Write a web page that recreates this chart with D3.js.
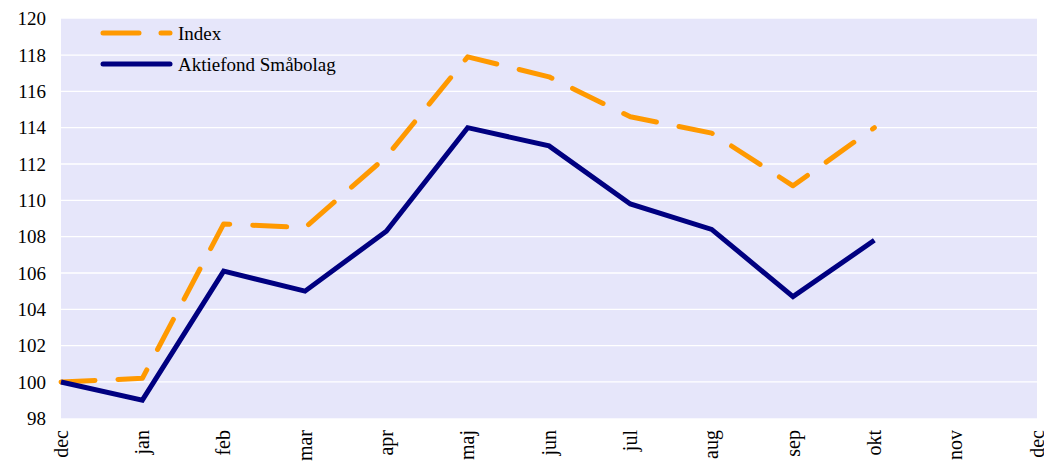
<!DOCTYPE html>
<html>
<head>
<meta charset="utf-8">
<script src="https://cdn.jsdelivr.net/npm/d3@7"></script>
<style>
  body { margin: 0; background: #fff; }
  svg text { font-family: 'Liberation Serif', 'Times New Roman', serif !important; fill: #000; }
</style>
</head>
<body>
<div id="chart"></div>
<script>
// months on the x axis (dec .. dec)
var months = ["dec", "jan", "feb", "mar", "apr", "maj", "jun", "jul", "aug", "sep", "okt", "nov", "dec"];
var yTicks = [98, 100, 102, 104, 106, 108, 110, 112, 114, 116, 118, 120];

// series (ends at okt)
var indexValues = [100, 100.2, 108.7, 108.5, 112.4, 117.9, 116.8, 114.6, 113.7, 110.8, 114.0];
var fundValues  = [100, 99.0, 106.1, 105.0, 108.3, 114.0, 113.0, 109.8, 108.4, 104.7, 107.8];

var seriesNames = ["Index", "Aktiefond Småbolag"];

var width = 1044, height = 467;
var plotLeft = 61, plotRight = 1037, plotTop = 18.7, plotBottom = 418.3;
var serif = "'Liberation Serif', serif";

var svg = d3.select("#chart").append("svg")
  .attr("width", width)
  .attr("height", height);

var x = d3.scaleLinear().domain([0, months.length - 1]).range([plotLeft, plotRight]);
var y = d3.scaleLinear().domain([98, 120]).range([plotBottom, plotTop]);

// plot background
svg.append("rect")
  .attr("x", plotLeft).attr("y", plotTop)
  .attr("width", plotRight - plotLeft).attr("height", plotBottom - plotTop)
  .attr("fill", "#e6e6fa");

// gridlines
svg.selectAll("line.grid")
  .data(yTicks.filter(function (d) { return d > 98 && d < 120; }))
  .enter().append("line")
    .attr("class", "grid")
    .attr("x1", plotLeft).attr("x2", plotRight)
    .attr("y1", function (d) { return y(d); })
    .attr("y2", function (d) { return y(d); })
    .attr("stroke", "#fff")
    .attr("stroke-width", 1.3);

// y axis labels
var yAxis = d3.axisLeft(y).tickValues(yTicks).tickSize(0).tickPadding(15);
var gy = svg.append("g").attr("transform", "translate(" + plotLeft + ",0)").call(yAxis);
gy.attr("font-family", serif).attr("font-size", 19);
gy.select(".domain").remove();
gy.selectAll("text").attr("fill", "#000");

// x axis labels (rotated)
svg.selectAll("text.xlab")
  .data(months)
  .enter().append("text")
    .attr("class", "xlab")
    .attr("transform", function (d, i) {
      return "translate(" + x(i) + ",430) rotate(-90)";
    })
    .attr("text-anchor", "end")
    .attr("dy", "0.33em")
    .attr("font-family", serif)
    .attr("font-size", 20)
    .text(function (d) { return d; });

var line = d3.line()
  .x(function (d, i) { return x(i); })
  .y(function (d) { return y(d); });

svg.append("path")
  .datum(indexValues)
  .attr("d", line)
  .attr("fill", "none")
  .attr("stroke", "#ff9900")
  .attr("stroke-width", 5)
  .attr("stroke-linecap", "round")
  .attr("stroke-linejoin", "round")
  .attr("stroke-dasharray", "34,23");

svg.append("path")
  .datum(fundValues)
  .attr("d", line)
  .attr("fill", "none")
  .attr("stroke", "#000080")
  .attr("stroke-width", 5)
  .attr("stroke-linejoin", "miter");

// legend
var legend = svg.append("g");
legend.append("line")
  .attr("x1", 103).attr("x2", 170).attr("y1", 33).attr("y2", 33)
  .attr("stroke", "#ff9900").attr("stroke-width", 5)
  .attr("stroke-linecap", "round")
  .attr("stroke-dasharray", "36,22");
legend.append("line")
  .attr("x1", 103).attr("x2", 170).attr("y1", 64).attr("y2", 64)
  .attr("stroke", "#000080").attr("stroke-width", 5)
  .attr("stroke-linecap", "round");
legend.selectAll("text.leg")
  .data(seriesNames)
  .enter().append("text")
    .attr("class", "leg")
    .attr("x", 178)
    .attr("y", function (d, i) { return 33 + i * 31; })
    .attr("dy", "0.35em")
    .attr("font-family", serif)
    .attr("font-size", 19)
    .text(function (d) { return d; });
</script>
</body>
</html>
